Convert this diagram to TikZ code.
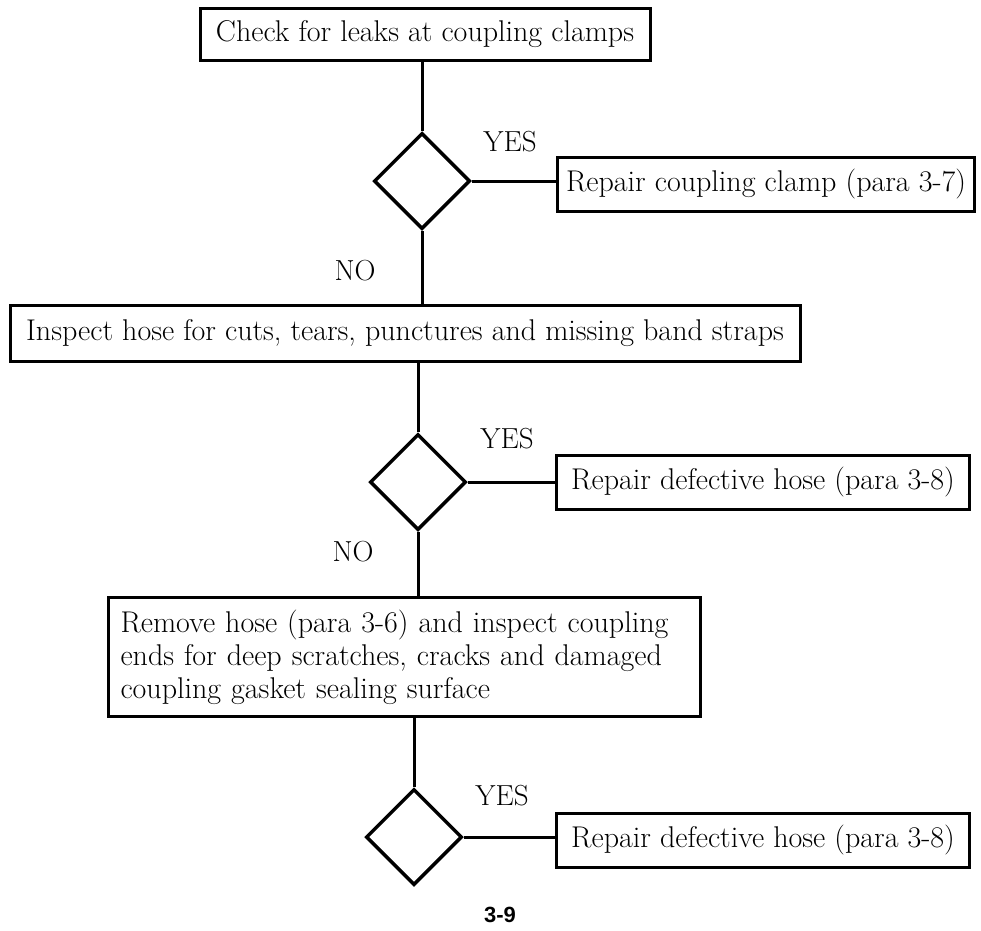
\documentclass[tikz,border=0pt]{standalone}
\usepackage{fontspec}
\newfontfamily\pagefont{Liberation Sans}
\usetikzlibrary{shapes.geometric}
\begin{document}
\begin{tikzpicture}[x=1pt,y=-1pt,
  box/.style={draw, line width=3pt, inner sep=0pt, font=\fontsize{30}{33}\selectfont},
  dec/.style={draw, diamond, line width=3.5pt, minimum width=96pt, minimum height=96pt, inner sep=0pt},
  link/.style={line width=3pt},
  lbl/.style={font=\fontsize{29}{32}\selectfont, inner sep=0pt}]
\useasboundingbox (0,0) rectangle (981,930);

\node[box, minimum width=450pt, minimum height=52pt] (b1) at (425,34) {Check for leaks at coupling clamps};
\node[dec] (d1) at (422,181) {};
\node[box, minimum width=417pt, minimum height=54pt] (b2) at (766,184) {Repair coupling clamp (para 3-7)};
\node[lbl] (y1) at (510,142) {YES};
\node[lbl] (n1) at (355,271) {NO};
\node[box, minimum width=790pt, minimum height=56pt] (b3) at (405,333) {Inspect hose for cuts, tears, punctures and missing band straps};
\node[dec] (d2) at (418,482) {};
\node[box, minimum width=413pt, minimum height=54pt] (b4) at (763,482) {Repair defective hose (para 3-8)};
\node[lbl] (y2) at (507,439) {YES};
\node[lbl] (n2) at (353,552) {NO};
\node[box, anchor=west, text width=568pt, align=left, inner xsep=12pt, minimum height=119pt] (b5) at (107,657) {Remove hose (para 3-6) and inspect coupling\\ends for deep scratches, cracks and damaged\\coupling gasket sealing surface};
\node[dec] (d3) at (414,837) {};
\node[box, minimum width=413pt, minimum height=54pt] (b6) at (763,840) {Repair defective hose (para 3-8)};
\node[lbl] (y3) at (502,796) {YES};
\node[font=\pagefont\bfseries\fontsize{22}{26}\selectfont, inner sep=0pt] (pg) at (500,915) {3-9};

\draw[link] (d1.north |- b1.south) -- (d1.north);
\draw[link] (d1.east) -- (b2.west |- d1.east);
\draw[link] (d1.south) -- (d1.south |- b3.north);
\draw[link] (d2.north |- b3.south) -- (d2.north);
\draw[link] (d2.east) -- (b4.west |- d2.east);
\draw[link] (d2.south) -- (d2.south |- b5.north);
\draw[link] (d3.north |- b5.south) -- (d3.north);
\draw[link] (d3.east) -- (b6.west |- d3.east);
\end{tikzpicture}
\end{document}
